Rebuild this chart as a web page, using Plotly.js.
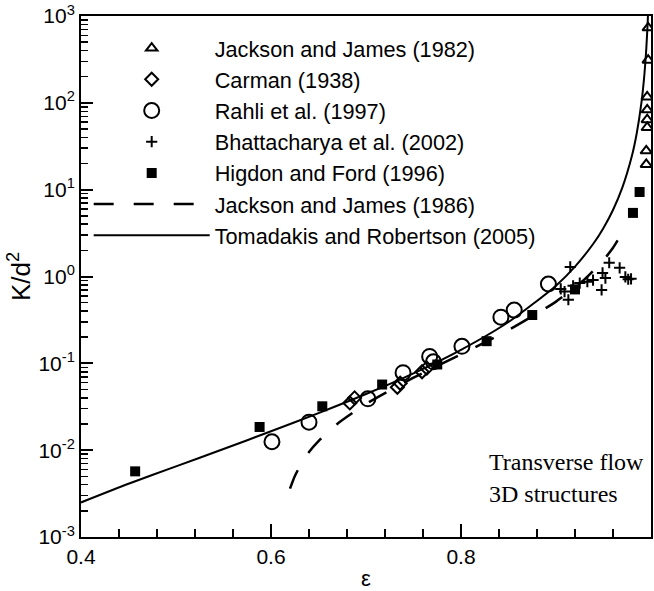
<!DOCTYPE html>
<html><head><meta charset="utf-8">
<script src="https://cdn.plot.ly/plotly-3.0.1.min.js"></script>
<style>html,body{margin:0;padding:0;background:#fff}#chart{width:654px;height:591px}</style>
</head><body><div id="chart"></div>
<script>
// Jackson and James (1982) - open triangles
const jj82X = [0.997, 0.997, 0.996, 0.996, 0.996, 0.996, 0.995, 0.995];
const jj82Y = [730, 310, 117, 83, 64, 52, 28, 19.5];
// Carman (1938) - open diamonds
const carmanX = [0.683, 0.688, 0.733, 0.736, 0.759, 0.764];
const carmanY = [0.035, 0.040, 0.053, 0.059, 0.080, 0.088];
// Rahli et al. (1997) - open circles
const rahliX = [0.601, 0.640, 0.702, 0.739, 0.767, 0.771, 0.801, 0.842, 0.856, 0.892];
const rahliY = [0.0125, 0.021, 0.039, 0.078, 0.12, 0.104, 0.157, 0.34, 0.41, 0.82];
// Bhattacharya et al. (2002) - crosses
const bhatX = [0.905, 0.909, 0.913, 0.915, 0.918, 0.925, 0.933, 0.939, 0.948, 0.949, 0.952, 0.956, 0.967, 0.973, 0.976, 0.979];
const bhatY = [0.72, 0.67, 0.54, 1.29, 0.78, 0.84, 0.87, 0.91, 0.70, 1.10, 0.96, 1.44, 1.26, 0.99, 0.93, 0.94];
// Higdon and Ford (1996) - filled squares
const higdonX = [0.457, 0.588, 0.654, 0.717, 0.775, 0.827, 0.875, 0.920, 0.981, 0.988];
const higdonY = [0.0057, 0.0185, 0.032, 0.057, 0.097, 0.18, 0.36, 0.71, 5.4, 9.4];
// Jackson and James (1986) - dashed curve
const jj86X = [0.620, 0.625, 0.630, 0.640, 0.650, 0.670, 0.700, 0.750, 0.800, 0.850, 0.900, 0.930, 0.950, 0.960, 0.971];
const jj86Y = [0.0036, 0.0050, 0.0064, 0.0095, 0.0127, 0.0202, 0.0341, 0.0683, 0.127, 0.242, 0.514, 0.926, 1.55, 2.14, 3.37];
// Tomadakis and Robertson (2005) - solid curve
const trX = [0.40, 0.45, 0.50, 0.55, 0.60, 0.65, 0.70, 0.75, 0.80, 0.85, 0.90, 0.92, 0.94, 0.95, 0.96, 0.97, 0.98, 0.985, 0.99, 0.993, 0.995, 0.9965, 0.997];
const trY = [0.0025, 0.0041, 0.0065, 0.0103, 0.0165, 0.0267, 0.0443, 0.0768, 0.143, 0.299, 0.785, 1.30, 2.45, 3.63, 5.84, 10.7, 24.7, 44.6, 101.6, 209, 412, 844, 1150];

const yTickVals = [0.001, 0.01, 0.1, 1, 10, 100, 1000];
const yTickText = ['10<sup>-3</sup>', '10<sup>-2</sup>', '10<sup>-1</sup>', '10<sup>0</sup>', '10<sup>1</sup>', '10<sup>2</sup>', '10<sup>3</sup>'];
const xTickVals = [0.4, 0.6, 0.8, 1.0];
const xTickText = ['0.4', '0.6', '0.8', '1'];

const yMinor = [];
for (let e = -3; e < 3; e++) { for (let m = 2; m <= 9; m++) yMinor.push(m * Math.pow(10, e)); }

const FONT = 'Liberation Sans, Arial, Helvetica, sans-serif';
const SERIF = 'Liberation Serif, Times New Roman, serif';
const K = '#000';

const traces = [
  {x: jj82X, y: jj82Y, mode: 'markers', name: 'Jackson and James (1982)',
   marker: {symbol: 'triangle-up-open', size: 10, color: K, line: {width: 2, color: K}}},
  {x: carmanX, y: carmanY, mode: 'markers', name: 'Carman (1938)',
   marker: {symbol: 'diamond-open', size: 10, color: K, line: {width: 2, color: K}}},
  {x: rahliX, y: rahliY, mode: 'markers', name: 'Rahli et al. (1997)',
   marker: {symbol: 'circle-open', size: 15, color: K, line: {width: 2, color: K}}},
  {x: bhatX, y: bhatY, mode: 'markers', name: 'Bhattacharya et al. (2002)',
   marker: {symbol: 'cross-thin-open', size: 8, color: K, line: {width: 2, color: K}}},
  {x: higdonX, y: higdonY, mode: 'markers', name: 'Higdon and Ford (1996)',
   marker: {symbol: 'square', size: 10, color: K, line: {width: 0}}},
  {x: jj86X, y: jj86Y, mode: 'lines', name: 'Jackson and James (1986)',
   line: {color: K, width: 2.5, dash: '20px,20px', shape: 'spline', smoothing: 0.6}},
  {x: trX, y: trY, mode: 'lines', name: 'Tomadakis and Robertson (2005)',
   line: {color: K, width: 2, shape: 'spline', smoothing: 0.6}}
];

const layout = {
  width: 654, height: 591,
  margin: {l: 81, r: 3, t: 16, b: 54},
  paper_bgcolor: '#fff', plot_bgcolor: '#fff',
  font: {family: FONT, color: K, size: 21},
  showlegend: true,
  legend: {x: 0.0135, y: 0.978, xanchor: 'left', yanchor: 'top', bgcolor: 'rgba(0,0,0,0)',
    borderwidth: 0, font: {family: FONT, size: 21.7, color: K}, itemwidth: 116, tracegroupgap: 0},
  xaxis: {
    range: [0.4, 1.0], tickmode: 'array', tickvals: xTickVals, ticktext: xTickText,
    ticks: 'inside', ticklen: 13, tickwidth: 2, tickcolor: K,
    showline: true, linewidth: 2, linecolor: K, mirror: true, showgrid: false, zeroline: false,
    tickfont: {family: FONT, size: 21, color: K},
    minor: {dtick: 0.04, tick0: 0.4, ticks: 'inside', ticklen: 8, tickwidth: 1.5, tickcolor: K, showgrid: false},
    title: {text: 'ε', font: {family: FONT, size: 22, color: K}, standoff: 9}
  },
  yaxis: {
    type: 'log', range: [-3, 3], tickmode: 'array', tickvals: yTickVals, ticktext: yTickText,
    ticks: 'inside', ticklen: 12, tickwidth: 2, tickcolor: K,
    showline: true, linewidth: 2, linecolor: K, mirror: true, showgrid: false, zeroline: false,
    tickfont: {family: FONT, size: 21, color: K},
    minor: {tickmode: 'array', tickvals: yMinor, ticks: 'inside', ticklen: 7, tickwidth: 1.5, tickcolor: K, showgrid: false},
    title: {text: 'K/d<sup>2</sup>', font: {family: FONT, size: 26, color: K}, standoff: 0}
  },
  annotations: [
    {xref: 'paper', yref: 'paper', x: 0.712, y: 0.143, xanchor: 'left', yanchor: 'middle', showarrow: false,
     align: 'left', text: 'Transverse flow', font: {family: SERIF, size: 24, color: K}},
    {xref: 'paper', yref: 'paper', x: 0.712, y: 0.082, xanchor: 'left', yanchor: 'middle', showarrow: false,
     align: 'left', text: '3D structures', font: {family: SERIF, size: 24, color: K}}
  ]
};

Plotly.newPlot('chart', traces, layout, {displayModeBar: false, staticPlot: true});
</script>
</body></html>
